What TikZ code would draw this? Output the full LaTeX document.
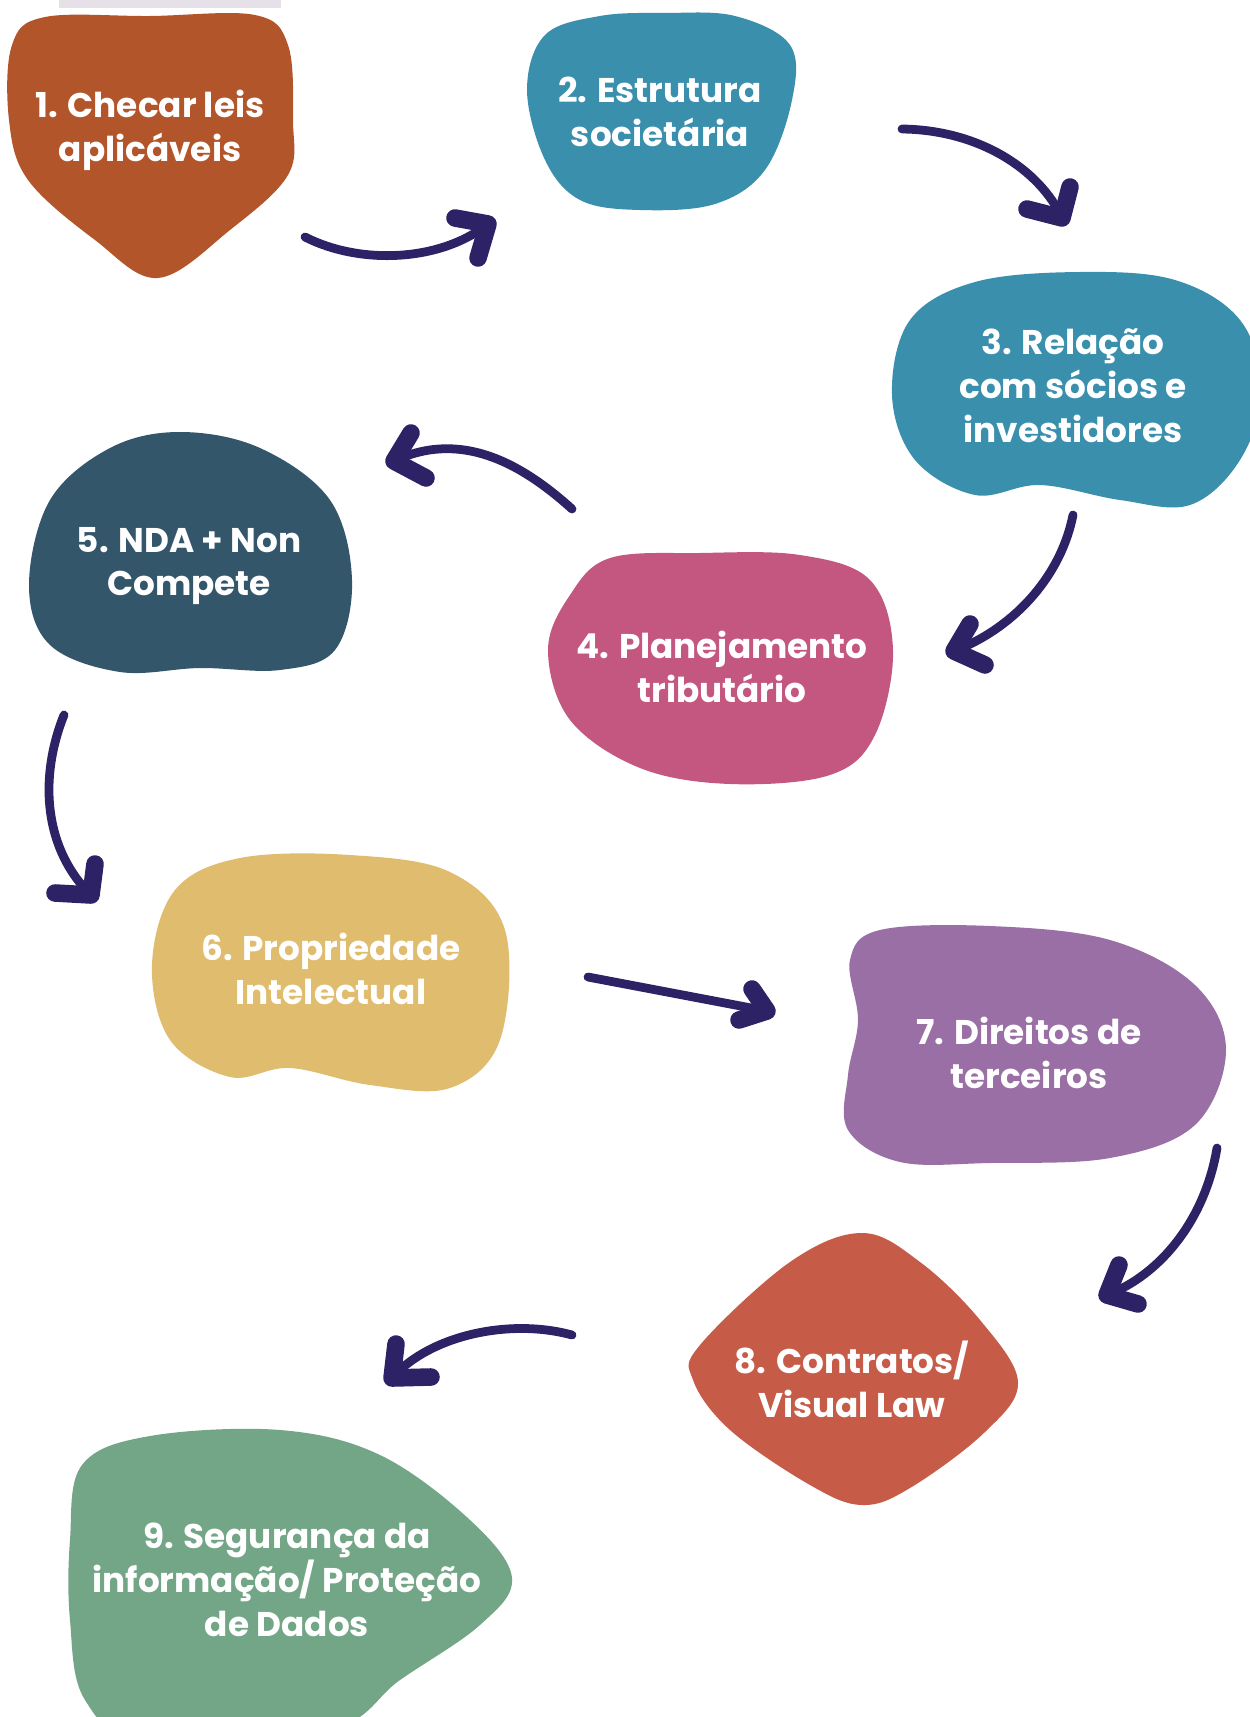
\documentclass[tikz,border=0pt]{standalone}
\usepackage{fontspec}
\setmainfont{Poppins}
\definecolor{tijolo}{HTML}{B3552A}
\definecolor{azul}{HTML}{3A8FAD}
\definecolor{rosa}{HTML}{C4577F}
\definecolor{ardosia}{HTML}{34566B}
\definecolor{mostarda}{HTML}{DFBC6E}
\definecolor{lilas}{HTML}{9A6FA6}
\definecolor{coral}{HTML}{C65B48}
\definecolor{salvia}{HTML}{73A587}
\definecolor{seta}{HTML}{2E2266}
\definecolor{barra}{HTML}{E6E1E8}
\begin{document}
\begin{tikzpicture}[
				x=0.02cm, y=-0.02cm,
				blob/.style={smooth cycle, tension=0.6},
				label/.style={text=white, font=\bfseries\fontsize{19.5}{25}\selectfont, align=center},
				flow/.style={draw=seta, line width=5pt, line cap=round},
				ponta/.style={draw=seta, line width=10pt, line cap=round, line join=round},
			]
			\useasboundingbox (0,0) rectangle (1250,1717);
			\fill[barra] (59,0) rectangle (281,8);
			% manchas
			\fill[tijolo] plot[blob] coordinates {(12,45) (45,17) (150,16) (255,15) (288,45) (293,120) (288,175) (230,230) (158,278) (95,240) (28,180) (9,120)};
			\fill[azul] plot[blob] coordinates {(527,90) (545,35) (600,16) (665,13) (735,16) (790,45) (792,100) (765,170) (715,204) (640,210) (580,200) (545,160)};
			\fill[azul] plot[blob] coordinates {(892,395) (910,320) (975,282) (1080,272) (1175,280) (1240,320) (1262,390) (1240,460) (1190,505) (1120,500) (1040,485) (975,495) (915,460)};
			\fill[rosa] plot[blob] coordinates {(548,650) (570,595) (610,558) (700,553) (800,555) (870,580) (893,650) (875,735) (830,775) (730,784) (640,768) (570,720)};
			\fill[ardosia] plot[blob] coordinates {(29,585) (50,500) (110,448) (180,432) (260,448) (330,500) (352,580) (335,650) (280,670) (200,668) (120,672) (50,645)};
			\fill[mostarda] plot[blob] coordinates {(152,965) (175,890) (240,858) (350,855) (450,872) (505,930) (500,1040) (450,1088) (370,1085) (290,1068) (230,1077) (170,1040)};
			\fill[lilas] plot[blob] coordinates {(850,960) (880,930) (990,926) (1110,940) (1195,985) (1226,1050) (1195,1125) (1110,1158) (990,1163) (900,1162) (848,1130) (848,1075) (858,1020)};
			\fill[coral] plot[blob] coordinates {(700,1345) (790,1262) (862,1233) (920,1262) (980,1320) (1018,1382) (985,1432) (910,1488) (862,1505) (810,1485) (730,1430) (693,1380)};
			\fill[salvia] plot[blob] coordinates {(70,1540) (82,1465) (150,1436) (280,1430) (380,1455) (470,1520) (512,1578) (480,1625) (400,1680) (330,1730) (150,1745) (85,1700) (70,1620)};
			% textos
			\node[label] (passo1) at (150,130) {1. Checar leis\\aplicáveis};
			\node[label] (passo2) at (660,112) {2. Estrutura\\societária};
			\node[label] (passo3) at (1073,386) {3. Relação\\com sócios e\\investidores};
			\node[label] (passo4) at (722,667) {4. Planejamento\\tributário};
			\node[label] (passo5) at (189,566) {5. NDA + Non\\Compete};
			\node[label] (passo6) at (331,969) {6. Propriedade\\Intelectual};
			\node[label] (passo7) at (1029,1053) {7. Direitos de\\terceiros};
			\node[label] (passo8) at (852,1379) {8. Contratos/\\Visual Law};
			\node[label] (passo9) at (287,1580) {9. Segurança da\\informação/ Proteção\\de Dados};
			% setas
			\coordinate (s1) at (305,237);
			\coordinate (e1) at (488,224);
			\coordinate (s2) at (902,129);
			\coordinate (e2) at (1062,218);
			\coordinate (s3) at (1073,515);
			\coordinate (e3) at (954,651);
			\coordinate (s4) at (572,509);
			\coordinate (e4) at (394,461);
			\coordinate (s5) at (64,715);
			\coordinate (e5) at (91,895);
			\coordinate (s6) at (588,977);
			\coordinate (e6) at (767,1011);
			\coordinate (s7) at (1217,1148);
			\coordinate (e7) at (1107,1295);
			\coordinate (s8) at (572,1335);
			\coordinate (e8) at (392,1378);
			\draw[flow] (s1) .. controls (360,265) and (440,262) .. (e1);
			\draw[flow] (s2) .. controls (980,130) and (1040,170) .. (e2);
			\draw[flow] (s3) .. controls (1060,580) and (1010,630) .. (e3);
			\draw[flow] (s4) .. controls (520,462) and (460,430) .. (e4);
			\draw[flow] (s5) .. controls (38,780) and (45,850) .. (e5);
			\draw[flow] (s6) -- (e6);
			\draw[flow] (s7) .. controls (1205,1220) and (1160,1275) .. (e7);
			\draw[flow] (s8) .. controls (510,1318) and (430,1335) .. (e8);
			% pontas
			\draw[ponta] (455,218) -- (e1) -- (478,258);
			\draw[ponta] (1027,209) -- (e2) -- (1070,187);
			\draw[ponta] (970,624) -- (e3) -- (985,665);
			\draw[ponta] (411,433) -- (e4) -- (426,478);
			\draw[ponta] (55,893) -- (e5) -- (95,864);
			\draw[ponta] (752,989) -- (e6) -- (739,1020);
			\draw[ponta] (1119,1265) -- (e7) -- (1138,1304);
			\draw[ponta] (396,1344) -- (e8) -- (431,1377);
\end{tikzpicture}
\end{document}
